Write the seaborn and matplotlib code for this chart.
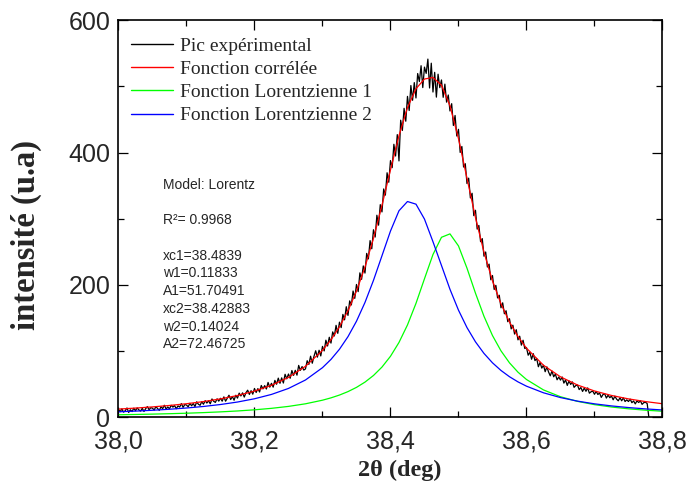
import numpy as np
import pandas as pd
import matplotlib
matplotlib.use("Agg")
import matplotlib.pyplot as plt
import seaborn as sns

# ---------------- data ----------------
fit_x = [38.000, 38.025, 38.050, 38.075, 38.100, 38.125, 38.150, 38.175, 38.200,
         38.225, 38.250, 38.275, 38.300, 38.3125, 38.325, 38.3375, 38.350, 38.3625,
         38.375, 38.3875, 38.400, 38.4125, 38.425, 38.4375, 38.450, 38.4625, 38.475,
         38.4875, 38.500, 38.5125, 38.525, 38.5375, 38.550, 38.5625, 38.575, 38.5875,
         38.600, 38.625, 38.650, 38.675, 38.700, 38.725, 38.750, 38.775, 38.800]

red_y = [12.67, 14.18, 15.98, 18.14, 20.76, 24.00, 28.04, 33.17, 39.82, 48.62,
         60.57, 77.25, 101.27, 117.29, 136.91, 161.05, 190.75, 227.01, 270.39,
         320.26, 373.79, 425.30, 467.71, 496.26, 510.91, 513.32, 501.50, 470.65,
         421.03, 361.20, 301.82, 249.49, 206.26, 171.60, 144.06, 122.16, 104.62,
         78.87, 61.37, 49.02, 40.02, 33.26, 28.07, 24.01, 20.76]

green_y = [4.10, 4.55, 5.08, 5.71, 6.45, 7.36, 8.47, 9.84, 11.58, 13.81, 16.73,
           20.66, 26.09, 29.62, 33.87, 39.05, 45.44, 53.39, 63.40, 76.11, 92.39,
           113.25, 139.71, 172.24, 209.42, 245.99, 272.02, 277.15, 258.99, 225.48,
           187.63, 152.78, 123.73, 100.61, 82.52, 68.41, 57.35, 41.60, 31.32, 24.33,
           19.40, 15.80, 13.10, 11.04, 9.42]

blue_y = [8.57, 9.63, 10.90, 12.43, 14.31, 16.64, 19.57, 23.33, 28.24, 34.81,
          43.84, 56.59, 75.18, 87.67, 103.04, 122.00, 145.31, 173.62, 206.99,
          244.15, 281.40, 312.05, 326.00, 322.02, 299.49, 265.33, 229.48, 193.50,
          162.04, 135.72, 114.19, 96.71, 82.53, 70.99, 61.54, 53.75, 47.27, 37.27,
          30.05, 24.69, 20.62, 17.46, 14.97, 12.97, 11.34]

# experimental pattern, one value every 0.0025 deg starting at 38.000
black_y = [
    11.7, 8.8, 13.0, 8.1, 10.3, 14.4, 7.6, 11.7, 8.9, 14.0,
    10.2, 14.4, 11.5, 9.7, 13.9, 9.1, 13.3, 16.4, 11.6, 14.8,
    14.0, 11.2, 16.4, 13.6, 10.8, 16.1, 13.3, 18.5, 12.7, 15.9,
    13.1, 18.4, 15.7, 17.9, 13.2, 17.5, 15.7, 21.0, 15.2, 19.5,
    18.8, 16.1, 21.4, 17.7, 21.1, 16.4, 23.7, 20.0, 18.4, 23.7,
    20.0, 25.4, 21.8, 25.2, 20.6, 28.0, 24.4, 22.8, 28.2, 24.7,
    29.0, 24.6, 31.1, 24.6, 29.1, 33.6, 27.1, 31.6, 26.1, 33.6,
    29.2, 36.8, 32.5, 37.2, 30.8, 37.5, 41.2, 34.8, 40.5, 35.2,
    43.8, 37.7, 43.6, 38.5, 48.3, 43.2, 48.1, 43.0, 52.9, 45.8,
    51.6, 45.8, 56.0, 50.2, 59.4, 51.6, 59.8, 52.0, 65.2, 58.4,
    65.6, 59.2, 70.9, 63.6, 71.2, 63.9, 78.6, 71.2, 76.9, 71.6,
    73.3, 85.7, 80.1, 92.5, 81.9, 92.3, 100.7, 91.1, 101.5, 92.9,
    107.3, 100.5, 116.7, 107.9, 121.1,
    112.3, 129.2, 123.1, 139.1, 127.0,
    143.9, 135.7, 155.6, 147.4, 167.2,
    154.1, 176.0, 169.9, 190.9, 179.8,
    200.8, 190.0, 218.3, 208.5, 228.8,
    218.0, 247.7, 239.4, 267.0, 254.7,
    283.4, 272.4, 305.3, 290.3, 321.3,
    310.3, 345.0, 335.7, 369.4, 355.1,
    387.8, 377.1, 412.4, 394.7, 427.0,
    387.3, 448.8, 433.3, 466.7, 447.2,
    484.7, 463.4, 501.1, 478.8, 505.5,
    482.3, 519.2, 507.1, 531.0, 498.0,
    528.9, 519.4, 541.0, 497.4, 534.8,
    491.3, 521.0, 483.6, 518.2, 497.9,
    509.5, 483.3, 503.2, 476.0, 486.8,
    462.7, 473.7, 440.8, 455.9, 424.9,
    435.0, 400.1, 409.1, 378.1, 383.1,
    353.2, 361.3, 331.4, 338.5, 304.7,
    312.8, 284.4, 289.9, 265.4, 270.0,
    243.5, 249.8, 227.2, 231.5, 207.9,
    214.3, 193.3, 199.4, 180.5, 184.5,
    165.6, 173.1, 156.6, 161.1, 144.6,
    149.1, 133.7, 139.3, 125.9, 132.5,
    117.2, 122.7, 109.2, 116.6, 104.1,
    105.6, 94.0, 98.5, 87.9, 96.3, 85.8, 89.2, 76.6, 83.0, 74.5,
    78.9, 69.1, 76.4, 68.6, 62.9, 70.1, 61.4, 65.6, 56.9, 61.1,
    56.4, 61.1, 51.9, 56.7, 48.4, 55.2, 49.9, 53.7, 45.5, 48.2,
    49.0, 42.1, 45.2, 39.3, 44.4, 39.5, 44.6, 36.7, 38.8, 39.9,
    35.0, 39.3, 34.7, 37.0, 30.3, 34.6, 35.9, 29.3, 33.6, 29.9,
    32.3, 26.7, 32.2, 27.7, 25.2, 29.7, 25.2, 29.6, 24.1, 26.6,
    24.1, 27.7, 22.3, 24.9, 20.5, 25.1, 22.6, 25.2, 19.8, 22.4,
    23.0, 21.0, 0.0,
]
black_step = 0.0025
black_x = list(np.round(38.0 + black_step * np.arange(len(black_y)), 4))

series_labels = ["Pic expérimental", "Fonction corrélée",
                 "Fonction Lorentzienne 1", "Fonction Lorentzienne 2"]
xtick_vals = [38.0, 38.2, 38.4, 38.6, 38.8]
xtick_labels = ["38,0", "38,2", "38,4", "38,6", "38,8"]
ytick_vals = [0, 200, 400, 600]
model_lines = ["Model: Lorentz", "", "R²= 0.9968", "", "xc1=38.4839", "w1=0.11833",
               "A1=51.70491", "xc2=38.42883", "w2=0.14024", "A2=72.46725"]

# ---------------- plot ----------------
sns.set_theme(style="ticks")
plt.rcParams["font.family"] = ["Liberation Sans", "DejaVu Sans"]

fig = plt.figure(figsize=(6.88, 4.88), dpi=100)
fig.patch.set_facecolor("white")
ax = fig.add_axes([0.1722, 0.1445, 0.7907, 0.8145])
ax.set_facecolor("white")

df_black = pd.DataFrame({"x": black_x, "y": black_y})
df_fit = pd.DataFrame({"x": fit_x, "red": red_y, "green": green_y, "blue": blue_y})

sns.lineplot(data=df_black, x="x", y="y", color="black", lw=0.9, estimator=None,
             sort=False, label=series_labels[0], ax=ax)
sns.lineplot(data=df_fit, x="x", y="red", color="#ff0000", lw=0.9, estimator=None,
             sort=False, label=series_labels[1], ax=ax)
sns.lineplot(data=df_fit, x="x", y="green", color="#00ff00", lw=0.9, estimator=None,
             sort=False, label=series_labels[2], ax=ax)
sns.lineplot(data=df_fit, x="x", y="blue", color="#0000ff", lw=0.9, estimator=None,
             sort=False, label=series_labels[3], ax=ax)

ax.set_xlim(38.0, 38.8)
ax.set_ylim(0, 600)
ax.set_xticks(xtick_vals)
ax.set_xticklabels(xtick_labels)
ax.set_xticks([38.1, 38.3, 38.5, 38.7], minor=True)
ax.set_yticks(ytick_vals)
ax.set_yticks([100, 300, 500], minor=True)

for sp in ax.spines.values():
    sp.set_visible(True)
    sp.set_linewidth(1.2)
    sp.set_color("black")
ax.tick_params(which="both", direction="in", top=True, right=True, color="black",
               width=0.9)
ax.tick_params(which="major", length=7, labelsize=18)
ax.tick_params(axis="x", which="major", pad=8.5)
ax.tick_params(axis="y", which="major", pad=6)
ax.tick_params(which="minor", length=4)
for lab in ax.get_xticklabels() + ax.get_yticklabels():
    lab.set_family(["Liberation Sans", "DejaVu Sans"])
for lab in ax.get_yticklabels():
    lab.set_verticalalignment("center_baseline")

ax.set_xlabel("2θ (deg)", fontsize=17.5, fontweight="bold",
              family=["Liberation Serif", "DejaVu Serif"], va="top")
ax.xaxis.set_label_coords(0.517, -0.106)
ax.set_ylabel("intensité (u.a)", fontsize=23.5, fontweight="bold",
              family=["Liberation Serif", "DejaVu Serif"])
ax.yaxis.set_label_coords(-0.140, 0.459)

leg = ax.legend(loc="upper left", bbox_to_anchor=(0.023, 0.957), frameon=False,
                prop={"family": "Liberation Serif", "size": 14},
                handlelength=2.16, handletextpad=0.36, labelspacing=0.29,
                borderpad=0, borderaxespad=0)
for h in leg.get_lines():
    h.set_linewidth(1.0)

# annotation block
line_h = 17.7 / 397.5
y0 = (417.5 - 185) / 397.5
for i, t in enumerate(model_lines):
    if t:
        ax.text(0.082, y0 - i * line_h, t, transform=ax.transAxes, fontsize=10,
                va="center", ha="left", family=["Liberation Sans", "DejaVu Sans"])

fig.savefig("out.png", dpi=100)
